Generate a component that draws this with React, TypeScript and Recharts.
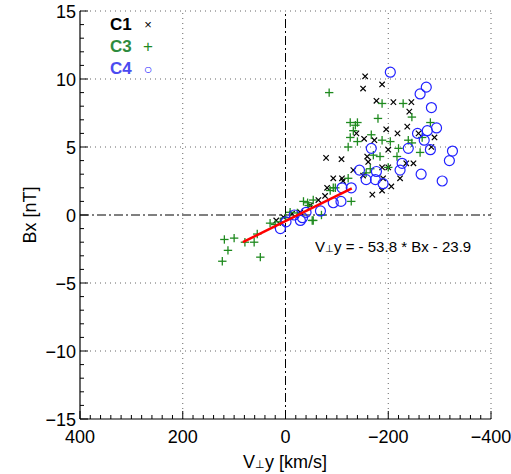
import React from 'react';
import { ScatterChart, Scatter, XAxis, YAxis, ReferenceLine } from 'recharts';

// C1 (black x)
const c1 = [
  { x: -155, y: 10.2 }, { x: -188, y: 9.6 }, { x: -151, y: 9.3 }, { x: -177, y: 8.4 },
  { x: -210, y: 8.3 }, { x: -245, y: 8.3 }, { x: -241, y: 7.6 }, { x: -237, y: 6.5 },
  { x: -196, y: 6.3 }, { x: -218, y: 6.0 }, { x: -290, y: 5.7 }, { x: -259, y: 6.0 },
  { x: -138, y: 6.0 }, { x: -153, y: 5.6 }, { x: -173, y: 5.5 }, { x: -284, y: 5.0 },
  { x: -79, y: 4.2 }, { x: -109, y: 4.1 }, { x: -159, y: 4.3 }, { x: -161, y: 3.9 },
  { x: -200, y: 4.8 }, { x: -235, y: 3.8 }, { x: -249, y: 3.8 }, { x: -132, y: 3.3 },
  { x: -188, y: 3.5 }, { x: -200, y: 3.5 }, { x: -151, y: 2.9 }, { x: -93, y: 2.7 },
  { x: -110, y: 2.7 }, { x: -112, y: 2.5 }, { x: -190, y: 2.7 }, { x: -206, y: 2.1 },
  { x: -223, y: 2.7 }, { x: -81, y: 2.0 }, { x: -169, y: 1.5 }, { x: -188, y: 1.8 },
  { x: 18, y: -0.4 }, { x: 4, y: -0.15 }, { x: -13, y: 0.1 }, { x: -29, y: 0.2 },
  { x: -48, y: 0.7 }, { x: -64, y: 1.1 }, { x: -77, y: 1.4 },
];

// C3 (green +)
const c3 = [
  { x: -85, y: 9.0 }, { x: -188, y: 8.2 }, { x: -229, y: 8.2 }, { x: -246, y: 7.2 },
  { x: -180, y: 7.1 }, { x: -126, y: 6.8 }, { x: -140, y: 6.8 }, { x: -136, y: 6.6 },
  { x: -282, y: 6.8 }, { x: -132, y: 6.2 }, { x: -167, y: 5.9 }, { x: -126, y: 5.7 },
  { x: -140, y: 5.4 }, { x: -188, y: 5.5 }, { x: -204, y: 5.4 }, { x: -239, y: 5.5 },
  { x: -246, y: 5.3 }, { x: -266, y: 5.7 }, { x: -122, y: 5.0 }, { x: -220, y: 4.9 },
  { x: -262, y: 4.6 }, { x: -171, y: 4.4 }, { x: -184, y: 4.3 }, { x: -217, y: 4.3 },
  { x: -200, y: 3.5 }, { x: -165, y: 3.4 }, { x: -157, y: 3.1 }, { x: -122, y: 2.7 },
  { x: -93, y: 2.0 }, { x: -128, y: 1.0 }, { x: -35, y: 1.0 }, { x: -45, y: 0.7 },
  { x: -54, y: 1.1 }, { x: -70, y: 0.0 }, { x: -52, y: -0.4 }, { x: -87, y: 1.8 },
  { x: -97, y: 2.0 }, { x: 119, y: -1.8 }, { x: 100, y: -1.7 }, { x: 112, y: -2.6 },
  { x: 123, y: -3.4 }, { x: 79, y: -2.0 }, { x: 61, y: -2.0 }, { x: 55, y: -1.4 },
  { x: 49, y: -3.1 }, { x: 30, y: -0.6 }, { x: 20, y: -0.7 }, { x: -23, y: 0.15 },
  { x: -43, y: 0.9 }, { x: -54, y: -0.4 }, { x: 0, y: -0.2 }, { x: 10, y: -0.5 },
  { x: -9, y: 0.2 },
];

// C4 (blue circles)
const c4 = [
  { x: -204, y: 10.5 }, { x: -274, y: 9.4 }, { x: -262, y: 8.9 }, { x: -284, y: 7.9 },
  { x: -294, y: 6.4 }, { x: -257, y: 6.0 }, { x: -276, y: 6.2 }, { x: -270, y: 5.5 },
  { x: -167, y: 4.9 }, { x: -239, y: 4.9 }, { x: -282, y: 4.8 }, { x: -325, y: 4.7 },
  { x: -319, y: 4.0 }, { x: -227, y: 3.8 }, { x: -223, y: 3.3 }, { x: -144, y: 3.3 },
  { x: -177, y: 3.2 }, { x: -264, y: 3.0 }, { x: -157, y: 2.6 }, { x: -175, y: 2.6 },
  { x: -190, y: 2.3 }, { x: -305, y: 2.5 }, { x: -110, y: 2.0 }, { x: -128, y: 2.0 },
  { x: -108, y: 1.0 }, { x: -93, y: 0.9 }, { x: -68, y: 0.3 }, { x: -40, y: 0.2 },
  { x: -17, y: 0.0 }, { x: -33, y: -0.2 }, { x: -1, y: -0.5 }, { x: 10, y: -1.0 },
  { x: -29, y: -0.4 },
];

// fitted line end points
const fitLine = [{ x: 83, y: -2.0 }, { x: -129, y: 1.95 }];

const xMajor = [400, 200, 0, -200, -400];
const yMajor = [15, 10, 5, 0, -5, -10, -15];
const xGrid = [200, -200, -400];
const yGrid = [15, 10, 5, -5, -10];

const xTicks: number[] = [];
for (let v = -400; v <= 400; v += 20) xTicks.push(v);
const yTicks: number[] = [];
for (let v = -15; v <= 15; v += 1) yTicks.push(v);

const FONT = '"Liberation Sans", Arial, Helvetica, sans-serif';
const GREEN = '#1f8a1f';
const BLUE = '#2222ff';

const fmt = (v: number) => (v < 0 ? '\u2212' + Math.abs(v) : String(v));

const XTick = (props: any) => {
  const { x, y, payload } = props;
  const major = xMajor.includes(payload.value);
  return (
    <g>
      <line x1={x} x2={x} y1={y} y2={y - (major ? 8 : 4)} stroke="#000" strokeWidth={1} />
      {major && (
        <text x={x} y={y + 24} textAnchor="middle" fontFamily={FONT} fontSize={18} fill="#000">
          {fmt(payload.value)}
        </text>
      )}
    </g>
  );
};

const YTick = (props: any) => {
  const { x, y, payload } = props;
  const major = yMajor.includes(payload.value);
  return (
    <g>
      <line x1={x} x2={x + (major ? 8 : 4)} y1={y} y2={y} stroke="#000" strokeWidth={1} />
      {major && (
        <text x={x - 4} y={y + 6.5} textAnchor="end" fontFamily={FONT} fontSize={18} fill="#000">
          {fmt(payload.value)}
        </text>
      )}
    </g>
  );
};

const XMark = (p: any) => (
  <g stroke="#000" strokeWidth={1.2}>
    <line x1={p.cx - 2.7} y1={p.cy - 2.7} x2={p.cx + 2.7} y2={p.cy + 2.7} />
    <line x1={p.cx - 2.7} y1={p.cy + 2.7} x2={p.cx + 2.7} y2={p.cy - 2.7} />
  </g>
);

const PlusMark = (p: any) => (
  <g stroke={GREEN} strokeWidth={1.3}>
    <line x1={p.cx - 4.2} y1={p.cy} x2={p.cx + 4.2} y2={p.cy} />
    <line x1={p.cx} y1={p.cy - 4.2} x2={p.cx} y2={p.cy + 4.2} />
  </g>
);

const CircleMark = (p: any) => (
  <circle cx={p.cx} cy={p.cy} r={5} fill="none" stroke={BLUE} strokeWidth={1.2} />
);

const legendRow = (top: number, label: string, color: string, sym: string, symColor: string, symSize: number) => (
  <>
    <div style={{ position: 'absolute', left: 110, top, fontSize: 17, fontWeight: 700, color, lineHeight: '18px' }}>{label}</div>
    <div style={{ position: 'absolute', left: 148, top, width: 0, fontSize: symSize, color: symColor, lineHeight: '18px' }}>
      <span style={{ position: 'absolute', transform: 'translateX(-50%)' }}>{sym}</span>
    </div>
  </>
);

export default function App() {
  return (
    <div style={{ position: 'absolute', left: 0, top: 0, width: 511, height: 474, background: '#fff', fontFamily: FONT }}>
      <ScatterChart width={511} height={474} margin={{ top: 11, right: 20, bottom: 15, left: 20 }}>
        <XAxis
          type="number"
          dataKey="x"
          domain={[-400, 400]}
          reversed
          ticks={xTicks}
          interval={0}
          tick={<XTick />}
          tickLine={false}
          tickSize={0}
          tickMargin={0}
          height={40}
          axisLine={{ stroke: '#000', strokeWidth: 1.2 }}
          allowDataOverflow
        />
        <YAxis
          type="number"
          dataKey="y"
          domain={[-15, 15]}
          ticks={yTicks}
          interval={0}
          tick={<YTick />}
          tickLine={false}
          tickSize={0}
          tickMargin={0}
          width={60}
          axisLine={{ stroke: '#000', strokeWidth: 1.2 }}
          allowDataOverflow
        />
        {xGrid.map((v) => (
          <ReferenceLine key={'gx' + v} x={v} stroke="#666" strokeDasharray="1 4" />
        ))}
        {yGrid.map((v) => (
          <ReferenceLine key={'gy' + v} y={v} stroke="#666" strokeDasharray="1 4" />
        ))}
        <ReferenceLine x={0} stroke="#000" strokeDasharray="9 3 2 3" />
        <ReferenceLine y={0} stroke="#000" strokeDasharray="9 3 2 3" />
        <Scatter data={c1} shape={XMark} isAnimationActive={false} />
        <Scatter data={c3} shape={PlusMark} isAnimationActive={false} />
        <Scatter data={c4} shape={CircleMark} isAnimationActive={false} />
        <Scatter
          data={fitLine}
          line={{ stroke: '#ff0000', strokeWidth: 2.5 }}
          shape={() => <g />}
          isAnimationActive={false}
        />
      </ScatterChart>

      {legendRow(16, 'C1', '#000', '\u00d7', '#000', 13)}
      {legendRow(38, 'C3', '#2e8b3e', '+', GREEN, 17)}
      {legendRow(60, 'C4', '#4b4bf0', '\u25cb', BLUE, 14)}

      <div style={{ position: 'absolute', left: 315, top: 238, fontSize: 15, color: '#000', whiteSpace: 'nowrap', lineHeight: '18px' }}>
        V<span style={{ fontSize: 10 }}>⊥</span>y = - 53.8 * Bx - 23.9
      </div>

      <div style={{ position: 'absolute', left: 285, top: 451, transform: 'translateX(-50%)', fontSize: 18, color: '#000', whiteSpace: 'nowrap', lineHeight: '22px' }}>
        V<span style={{ fontSize: 11 }}>⊥</span>y [km/s]
      </div>

      <div style={{ position: 'absolute', left: 30, top: 215, transform: 'translate(-50%, -50%) rotate(-90deg)', fontSize: 18, color: '#000', whiteSpace: 'nowrap', lineHeight: '22px' }}>
        Bx [nT]
      </div>
    </div>
  );
}
